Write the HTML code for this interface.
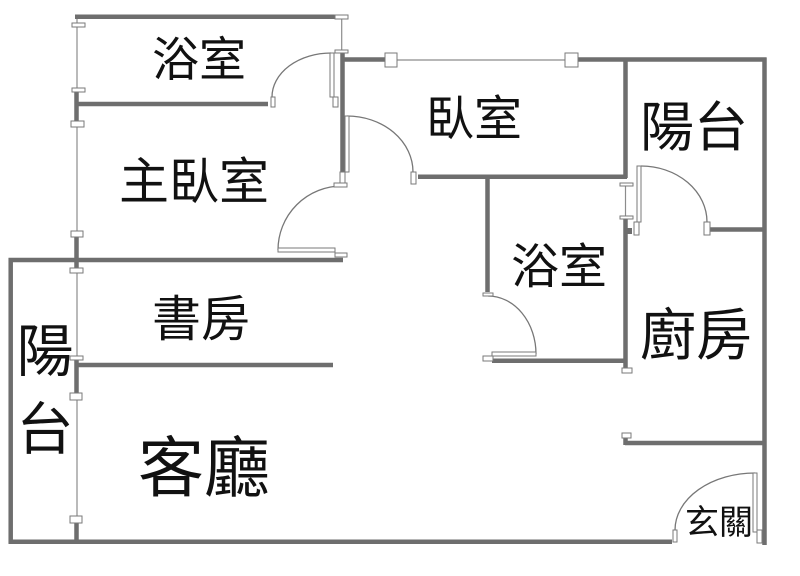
<!DOCTYPE html>
<html><head><meta charset="utf-8"><style>
html,body{margin:0;padding:0;background:#fff;}
svg{display:block;}
text{font-family:"Liberation Sans","Noto Sans CJK TC","Noto Sans CJK SC",sans-serif;fill:#111;text-anchor:middle;}
</style></head><body>
<svg width="800" height="576" viewBox="0 0 800 576" xmlns="http://www.w3.org/2000/svg">
<rect width="800" height="576" fill="#fff"/>
<!-- thin lines -->
<g stroke="#8c8c8c" stroke-width="1.2" fill="none">
<line x1="77" y1="17" x2="77" y2="92"/>
<line x1="77" y1="121" x2="77" y2="235"/>
<line x1="77" y1="268" x2="77" y2="360"/>
<line x1="77" y1="393" x2="77" y2="523"/>
<line x1="341.7" y1="19" x2="341.7" y2="52"/>
<line x1="397" y1="60" x2="565" y2="60"/>
<line x1="625.5" y1="186" x2="625.5" y2="217"/>
</g>
<!-- walls -->
<g stroke="#6e6e6e" stroke-width="4.5" fill="none" stroke-linecap="butt">
<line x1="75" y1="16.7" x2="336" y2="16.7"/>
<line x1="76" y1="104" x2="268" y2="104"/>
<line x1="76.5" y1="92" x2="76.5" y2="121"/>
<line x1="76.5" y1="236" x2="76.5" y2="268"/>
<line x1="76.5" y1="359" x2="76.5" y2="393"/>
<line x1="76.5" y1="523" x2="76.5" y2="542"/>
<line x1="342.5" y1="52" x2="342.5" y2="183"/>
<line x1="342" y1="59.5" x2="385" y2="59.5"/>
<line x1="578" y1="59.5" x2="766.5" y2="59.5"/>
<line x1="764.5" y1="57.5" x2="764.5" y2="545"/>
<line x1="625.5" y1="57.5" x2="625.5" y2="178"/>
<line x1="625.5" y1="219" x2="625.5" y2="368"/>
<line x1="418" y1="176.7" x2="627" y2="176.7"/>
<line x1="487.5" y1="177" x2="487.5" y2="292"/>
<line x1="492" y1="360.7" x2="627" y2="360.7"/>
<line x1="710" y1="229.5" x2="765" y2="229.5"/>
<line x1="625" y1="443" x2="765" y2="443"/>
<line x1="625.5" y1="438" x2="625.5" y2="445"/>
<line x1="8.5" y1="260" x2="343" y2="260"/>
<line x1="10.7" y1="258" x2="10.7" y2="543.5"/>
<line x1="8.5" y1="541.7" x2="672" y2="541.7"/>
<line x1="77" y1="365" x2="333" y2="365"/>
</g>
<rect x="627" y="228" width="5" height="6" fill="#6e6e6e"/>
<!-- door arcs -->
<g stroke="#777" stroke-width="1.3" fill="none">
<path d="M 272 97 A 59 44 0 0 1 331 53"/>
<path d="M 347 116 A 66 56 0 0 1 413 172"/>
<path d="M 342 186 A 64 64 0 0 0 278 250"/>
<path d="M 641 166 A 66 56 0 0 1 707 222"/>
<path d="M 488 296 A 48 58 0 0 1 536 354"/>
<path d="M 675 530 A 80 57 0 0 1 755 473"/>
</g>
<!-- caps, window frames, door leaves -->
<g stroke="#7a7a7a" stroke-width="1" fill="#fff">
<rect x="72" y="23" width="13" height="4"/>
<rect x="72" y="88" width="13" height="4"/>
<rect x="71" y="121" width="13" height="6"/>
<rect x="71" y="231" width="12" height="6"/>
<rect x="70" y="268" width="13" height="5"/>
<rect x="70" y="356" width="13" height="4"/>
<rect x="70" y="393" width="12" height="7"/>
<rect x="70" y="516" width="12" height="7"/>
<rect x="335" y="15" width="13" height="4"/>
<rect x="335" y="50" width="13" height="3"/>
<rect x="385" y="53" width="12" height="14"/>
<rect x="565" y="53" width="13" height="14"/>
<rect x="620" y="183" width="13" height="3"/>
<rect x="620" y="216" width="13" height="3"/>
<rect x="622" y="368" width="10" height="5"/>
<rect x="622" y="433" width="9" height="5"/>
<!-- upper bath door -->
<rect x="330" y="53" width="4" height="44"/>
<rect x="333" y="97" width="5" height="10"/>
<rect x="271" y="97" width="4" height="10"/>
<!-- bedroom door -->
<rect x="345" y="116" width="4" height="56"/>
<rect x="411" y="172" width="5" height="12"/>
<rect x="340" y="172" width="5" height="13"/>
<rect x="334" y="183" width="13" height="4"/>
<!-- master door -->
<rect x="278" y="248" width="57" height="4"/>
<rect x="335" y="253" width="12" height="4"/>
<!-- balcony door -->
<rect x="637" y="166" width="4" height="56"/>
<rect x="634" y="222" width="5" height="13"/>
<rect x="704" y="222" width="6" height="13"/>
<!-- middle bath door -->
<rect x="483" y="293" width="10" height="3"/>
<rect x="492" y="352" width="44" height="4"/>
<rect x="483" y="356" width="10" height="5"/>
<!-- entry door -->
<rect x="673" y="530" width="4" height="12"/>
<rect x="753" y="473" width="4" height="59"/>
<rect x="757" y="530" width="5" height="13"/>
</g>
<!-- labels -->
<text x="199" y="76" font-size="47">浴室</text>
<text x="194" y="199" font-size="50">主臥室</text>
<text x="474" y="135" font-size="48">臥室</text>
<text x="694" y="146" font-size="54">陽台</text>
<text x="559" y="283" font-size="48">浴室</text>
<text x="696" y="355" font-size="56">廚房</text>
<text x="201" y="336" font-size="49">書房</text>
<text x="45" y="371" font-size="57">陽</text>
<text x="45" y="449" font-size="57">台</text>
<text x="204" y="491" font-size="66">客廳</text>
<text x="719" y="534" font-size="34">玄關</text>
</svg>
</body></html>
